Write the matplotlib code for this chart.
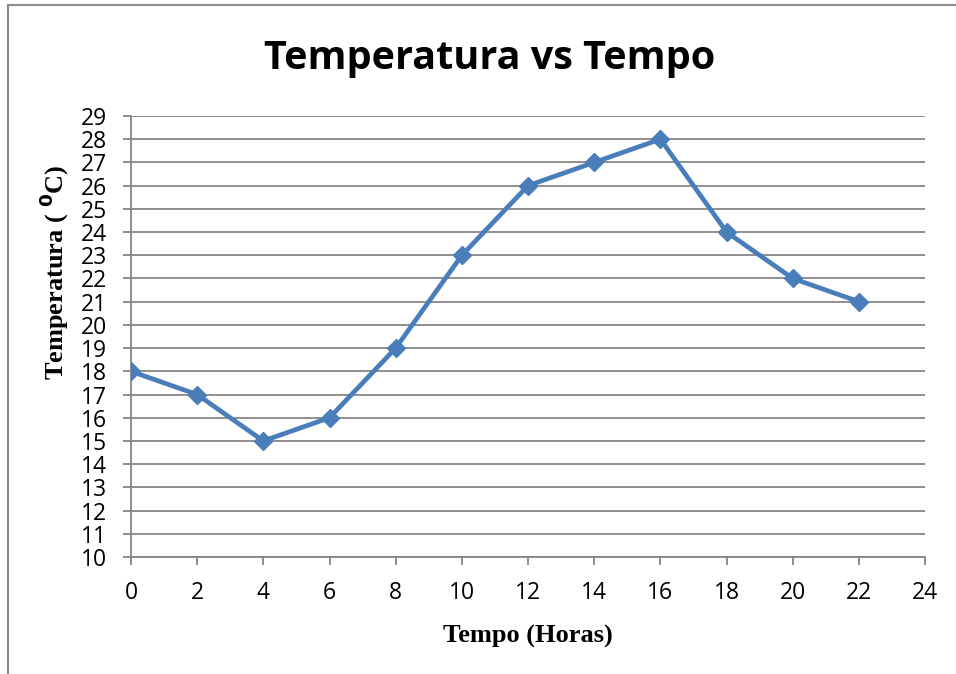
import matplotlib
matplotlib.use("Agg")
import matplotlib.pyplot as plt
from matplotlib.lines import Line2D

# data
horas = [0, 2, 4, 6, 8, 10, 12, 14, 16, 18, 20, 22]
temperatura = [18, 17, 15, 16, 19, 23, 26, 27, 28, 24, 22, 21]
x_ticks = list(range(0, 25, 2))
y_ticks = list(range(10, 30))

grid_color = "#868686"
line_color = "#4a7ebb"

fig = plt.figure(figsize=(9.56, 6.74), dpi=100)
ax = fig.add_axes([0.137, 0.1736, 0.8307, 0.6543])

ax.plot(horas, temperatura, color=line_color, linewidth=3.4,
        marker="D", markersize=9.5, markeredgecolor=line_color, zorder=3)

ax.set_xlim(0, 24)
ax.set_ylim(10, 29)
ax.set_xticks(x_ticks)
ax.set_yticks(y_ticks)

ax.grid(axis="y", color=grid_color, linewidth=1.3)
ax.set_axisbelow(True)
for s in ["top", "right"]:
    ax.spines[s].set_visible(False)
for s in ["left", "bottom"]:
    ax.spines[s].set_color(grid_color)
    ax.spines[s].set_linewidth(1.3)

ax.tick_params(axis="both", colors=grid_color, width=1.3, length=6,
               labelcolor="black", labelsize=16.5)
ax.tick_params(axis="x", pad=11)
ax.tick_params(axis="y", pad=11)
for lab in ax.get_xticklabels() + ax.get_yticklabels():
    lab.set_fontfamily("Open Sans")

ax.set_xlabel("Tempo (Horas)", fontsize=19, fontweight="bold",
              fontfamily="Liberation Serif")
ax.xaxis.set_label_coords(0.5, -0.155)
ax.set_ylabel("Temperatura ( $^{\\mathbf{0}}$C)", fontsize=19, fontweight="bold",
              fontfamily="Liberation Serif")
ax.yaxis.set_label_coords(-0.075, 0.646)

fig.text(0.512, 0.913, "Temperatura vs Tempo", ha="center", va="center",
         fontsize=28.5, fontweight="bold", fontfamily="Open Sans")

# outer frame (top and left edges visible)
fig.add_artist(Line2D([7.5 / 956, 1], [1 - 4.5 / 674, 1 - 4.5 / 674],
                      transform=fig.transFigure, color="#8c8c8c", linewidth=1.5))
fig.add_artist(Line2D([7.5 / 956, 7.5 / 956], [0, 1 - 4.5 / 674],
                      transform=fig.transFigure, color="#8c8c8c", linewidth=1.5))

fig.savefig("out.png", dpi=100)
